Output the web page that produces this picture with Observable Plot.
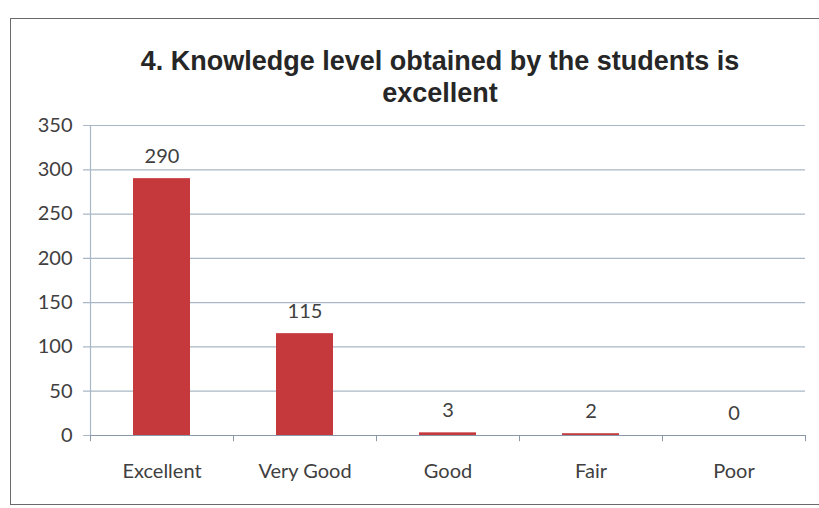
<!DOCTYPE html>
<html>
<head>
<meta charset="utf-8">
<script src="https://cdn.jsdelivr.net/npm/d3@7"></script>
<script src="https://cdn.jsdelivr.net/npm/@observablehq/plot@0.6"></script>
<style>
  html, body { margin: 0; padding: 0; background: #ffffff; width: 819px; height: 508px; overflow: hidden; }
  #frame { position: absolute; left: 10px; top: 18px; width: 830px; height: 487px; border: 1.5px solid #6a6a6a; box-sizing: border-box; }
  #title { position: absolute; left: 0; top: 45px; width: 880px; text-align: center; font-family: "Liberation Sans", Arial, sans-serif; font-weight: bold; font-size: 27px; line-height: 32px; color: #262626; }
  #chart { position: absolute; left: 0; top: 110px; }
</style>
</head>
<body>
<div id="frame"></div>
<div id="title">4. Knowledge level obtained by the students is<br>excellent</div>
<div id="chart"></div>
<script>
const categories = ["Excellent", "Very Good", "Good", "Fair", "Poor"];
const values = [290, 115, 3, 2, 0];
const yTicks = [0, 50, 100, 150, 200, 250, 300, 350];

const data = categories.map((c, i) => ({category: c, value: values[i]}));
const W = 819, mL = 90, mR = 14;
const half = (W - mL - mR) / categories.length / 2;
const gridColor = "#a9b7c6";
const textColor = "#404040";
const font = "Lato, 'Open Sans', sans-serif";

const plot = Plot.plot({
  width: W,
  height: 398,
  marginLeft: mL,
  marginRight: mR,
  marginTop: 15,
  marginBottom: 73,
  style: {fontFamily: font, fontSize: "20px", color: textColor, background: "transparent"},
  x: {domain: categories, paddingInner: 0.6, paddingOuter: 0.3, label: null},
  y: {domain: [0, 350], label: null},
  marks: [
    Plot.gridY(yTicks, {stroke: gridColor, strokeOpacity: 1, strokeWidth: 1.2, insetLeft: -7}),
    Plot.axisY(yTicks, {tickSize: 0, tickPadding: 18, fontSize: 20, fill: textColor, anchor: "left"}),
    Plot.ruleX([categories[0]], {dx: -half, y1: 0, y2: 350, stroke: gridColor, strokeWidth: 1.2}),
    Plot.ruleX(categories, {dx: -half, y1: 0, y2: -7, stroke: "#8a98a8"}),
    Plot.ruleX([categories[4]], {dx: half, y1: 0, y2: -7, stroke: "#8a98a8"}),
    Plot.barY(data, {x: "category", y: "value", fill: "#c5383c"}),
    Plot.ruleY([0], {stroke: "#8a98a8", strokeWidth: 1.2}),
    Plot.text(data, {x: "category", y: "value", text: d => String(d.value), dy: -22, fontSize: 20, fill: textColor}),
    Plot.axisX({tickSize: 0, tickPadding: 28, fontSize: 20, fill: textColor})
  ]
});
document.getElementById("chart").appendChild(plot);
</script>
</body>
</html>
